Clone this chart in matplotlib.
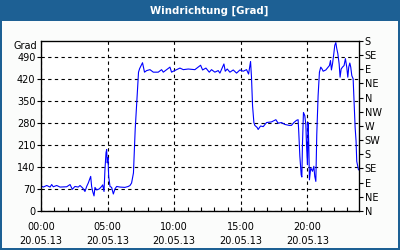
#!/usr/bin/env python3
import matplotlib
matplotlib.use("Agg")
import matplotlib.pyplot as plt
from matplotlib.patches import Rectangle

# wind direction readings, 20.05.13 (time in hours, direction in degrees)
hours = [0.0, 0.17, 0.43, 0.68, 0.8, 0.92, 1.18, 1.43, 1.93, 2.18, 2.35, 2.55,
         2.8, 2.93, 3.13, 3.3, 3.43, 3.55, 3.73, 3.8, 3.88, 3.98, 4.05, 4.18,
         4.37, 4.55, 4.63, 4.73, 4.8, 4.88, 4.93, 4.97, 5.03, 5.08, 5.18, 5.3,
         5.43, 5.55, 5.68, 5.93, 6.3, 6.55, 6.68, 6.8, 6.94, 7.07, 7.2, 7.32,
         7.4, 7.62, 7.77, 7.93, 8.18, 8.43, 8.8, 9.05, 9.18, 9.68, 9.8, 9.93,
         10.18, 10.43, 10.68, 11.05, 11.55, 11.8, 11.98, 12.13, 12.38, 12.63, 12.8, 13.05,
         13.3, 13.43, 13.63, 13.73, 13.83, 13.98, 14.18, 14.43, 14.68, 14.93, 15.18, 15.43,
         15.58, 15.73, 15.8, 15.88, 15.98, 16.05, 16.23, 16.3, 16.48, 16.68, 16.93, 17.3,
         17.63, 17.8, 18.05, 18.3, 18.63, 18.8, 18.98, 19.18, 19.3, 19.35, 19.43, 19.53,
         19.58, 19.63, 19.7, 19.8, 19.88, 19.93, 20.0, 20.05, 20.1, 20.15, 20.25, 20.38,
         20.48, 20.55, 20.63, 20.7, 20.8, 20.9, 21.0, 21.1, 21.18, 21.38, 21.55, 21.65,
         21.73, 21.8, 21.88, 21.98, 22.05, 22.13, 22.2, 22.28, 22.38, 22.45, 22.53, 22.63,
         22.75, 22.85, 22.95, 23.03, 23.1, 23.18, 23.25, 23.33, 23.43, 23.5, 23.58, 23.65,
         23.7, 23.78, 23.83]
direction = [80, 76, 81, 76, 84, 77, 81, 76, 77, 84, 69, 78,
             76, 81, 73, 62, 78, 89, 110, 78, 62, 48, 75, 67,
             70, 78, 83, 62, 131, 185, 195, 153, 169, 110, 78, 75,
             54, 70, 78, 76, 75, 78, 81, 89, 121, 259, 355, 441,
             452, 471, 441, 446, 449, 441, 441, 449, 441, 457, 441, 444,
             449, 454, 449, 451, 449, 457, 463, 448, 454, 441, 449, 441,
             446, 438, 457, 467, 444, 451, 441, 448, 438, 448, 444, 449,
             435, 475, 425, 334, 281, 272, 265, 259, 270, 268, 281, 283,
             290, 279, 281, 275, 272, 272, 281, 288, 290, 249, 174, 115,
             108, 217, 313, 303, 275, 211, 147, 281, 211, 99, 137, 126,
             142, 110, 94, 243, 366, 441, 457, 451, 444, 448, 457, 462,
             478, 448, 467, 500, 526, 535, 516, 500, 467, 425, 451, 457,
             462, 484, 457, 425, 457, 470, 457, 430, 420, 350, 265, 222,
             158, 142, 131]

left_ticks = [0, 70, 140, 210, 280, 350, 420, 490]
compass = ["N", "NE", "E", "SE", "S", "SW", "W", "NW", "N", "NE", "E", "SE", "S"]
compass_deg = [45 * i for i in range(len(compass))]
time_ticks = [0, 5, 10, 15, 20]
time_labels = ["00:00\n20.05.13", "05:00\n20.05.13", "10:00\n20.05.13",
               "15:00\n20.05.13", "20:00\n20.05.13"]

frame_blue = "#1d6094"
fs = 7

fig = plt.figure(figsize=(4, 2.5), dpi=100)
fig.patch.set_facecolor(frame_blue)
fig.patches.append(Rectangle((2 / 400, 2 / 250), 396 / 400, 227 / 250,
                             transform=fig.transFigure, facecolor="#fbfcfb",
                             edgecolor="none", zorder=-10))
fig.text(209 / 400, 1 - 11 / 250, "Windrichtung [Grad]", color="white",
         fontsize=7.3, fontweight="bold", ha="center", va="center")

ax = fig.add_axes([41 / 400, 39 / 250, 318 / 400, 170 / 250])
ax.set_facecolor("white")
ax.plot(hours, direction, color="#0000ff", lw=0.8)

ax.set_xlim(0, 23.87)
ax.set_ylim(0, 540)
ax.set_yticks(left_ticks)
ax.set_yticklabels([str(v) for v in left_ticks], fontsize=fs)
ax.set_xticks(time_ticks)
ax.set_xticklabels(time_labels, fontsize=fs, linespacing=1.45)
ax.set_xticks(range(1, 24), minor=True)
ax.tick_params(axis="x", which="both", direction="in", length=3, width=0.8, pad=8)
ax.tick_params(axis="y", direction="out", length=3, width=0.8, pad=1)
ax.grid(True, color="black", linestyle=(0, (3, 3)), lw=0.8)
for sp in ax.spines.values():
    sp.set_linewidth(0.9)
    sp.set_color("black")

ax2 = ax.twinx()
ax2.set_ylim(0, 540)
ax2.set_yticks(compass_deg)
ax2.set_yticklabels(compass, fontsize=fs)
ax2.tick_params(axis="y", direction="out", length=3, width=0.8, pad=1)

ax.text(-0.012, 0.97, "Grad", transform=ax.transAxes, ha="right", va="center",
        fontsize=fs)

fig.savefig("out.png", dpi=100, facecolor=fig.get_facecolor())
